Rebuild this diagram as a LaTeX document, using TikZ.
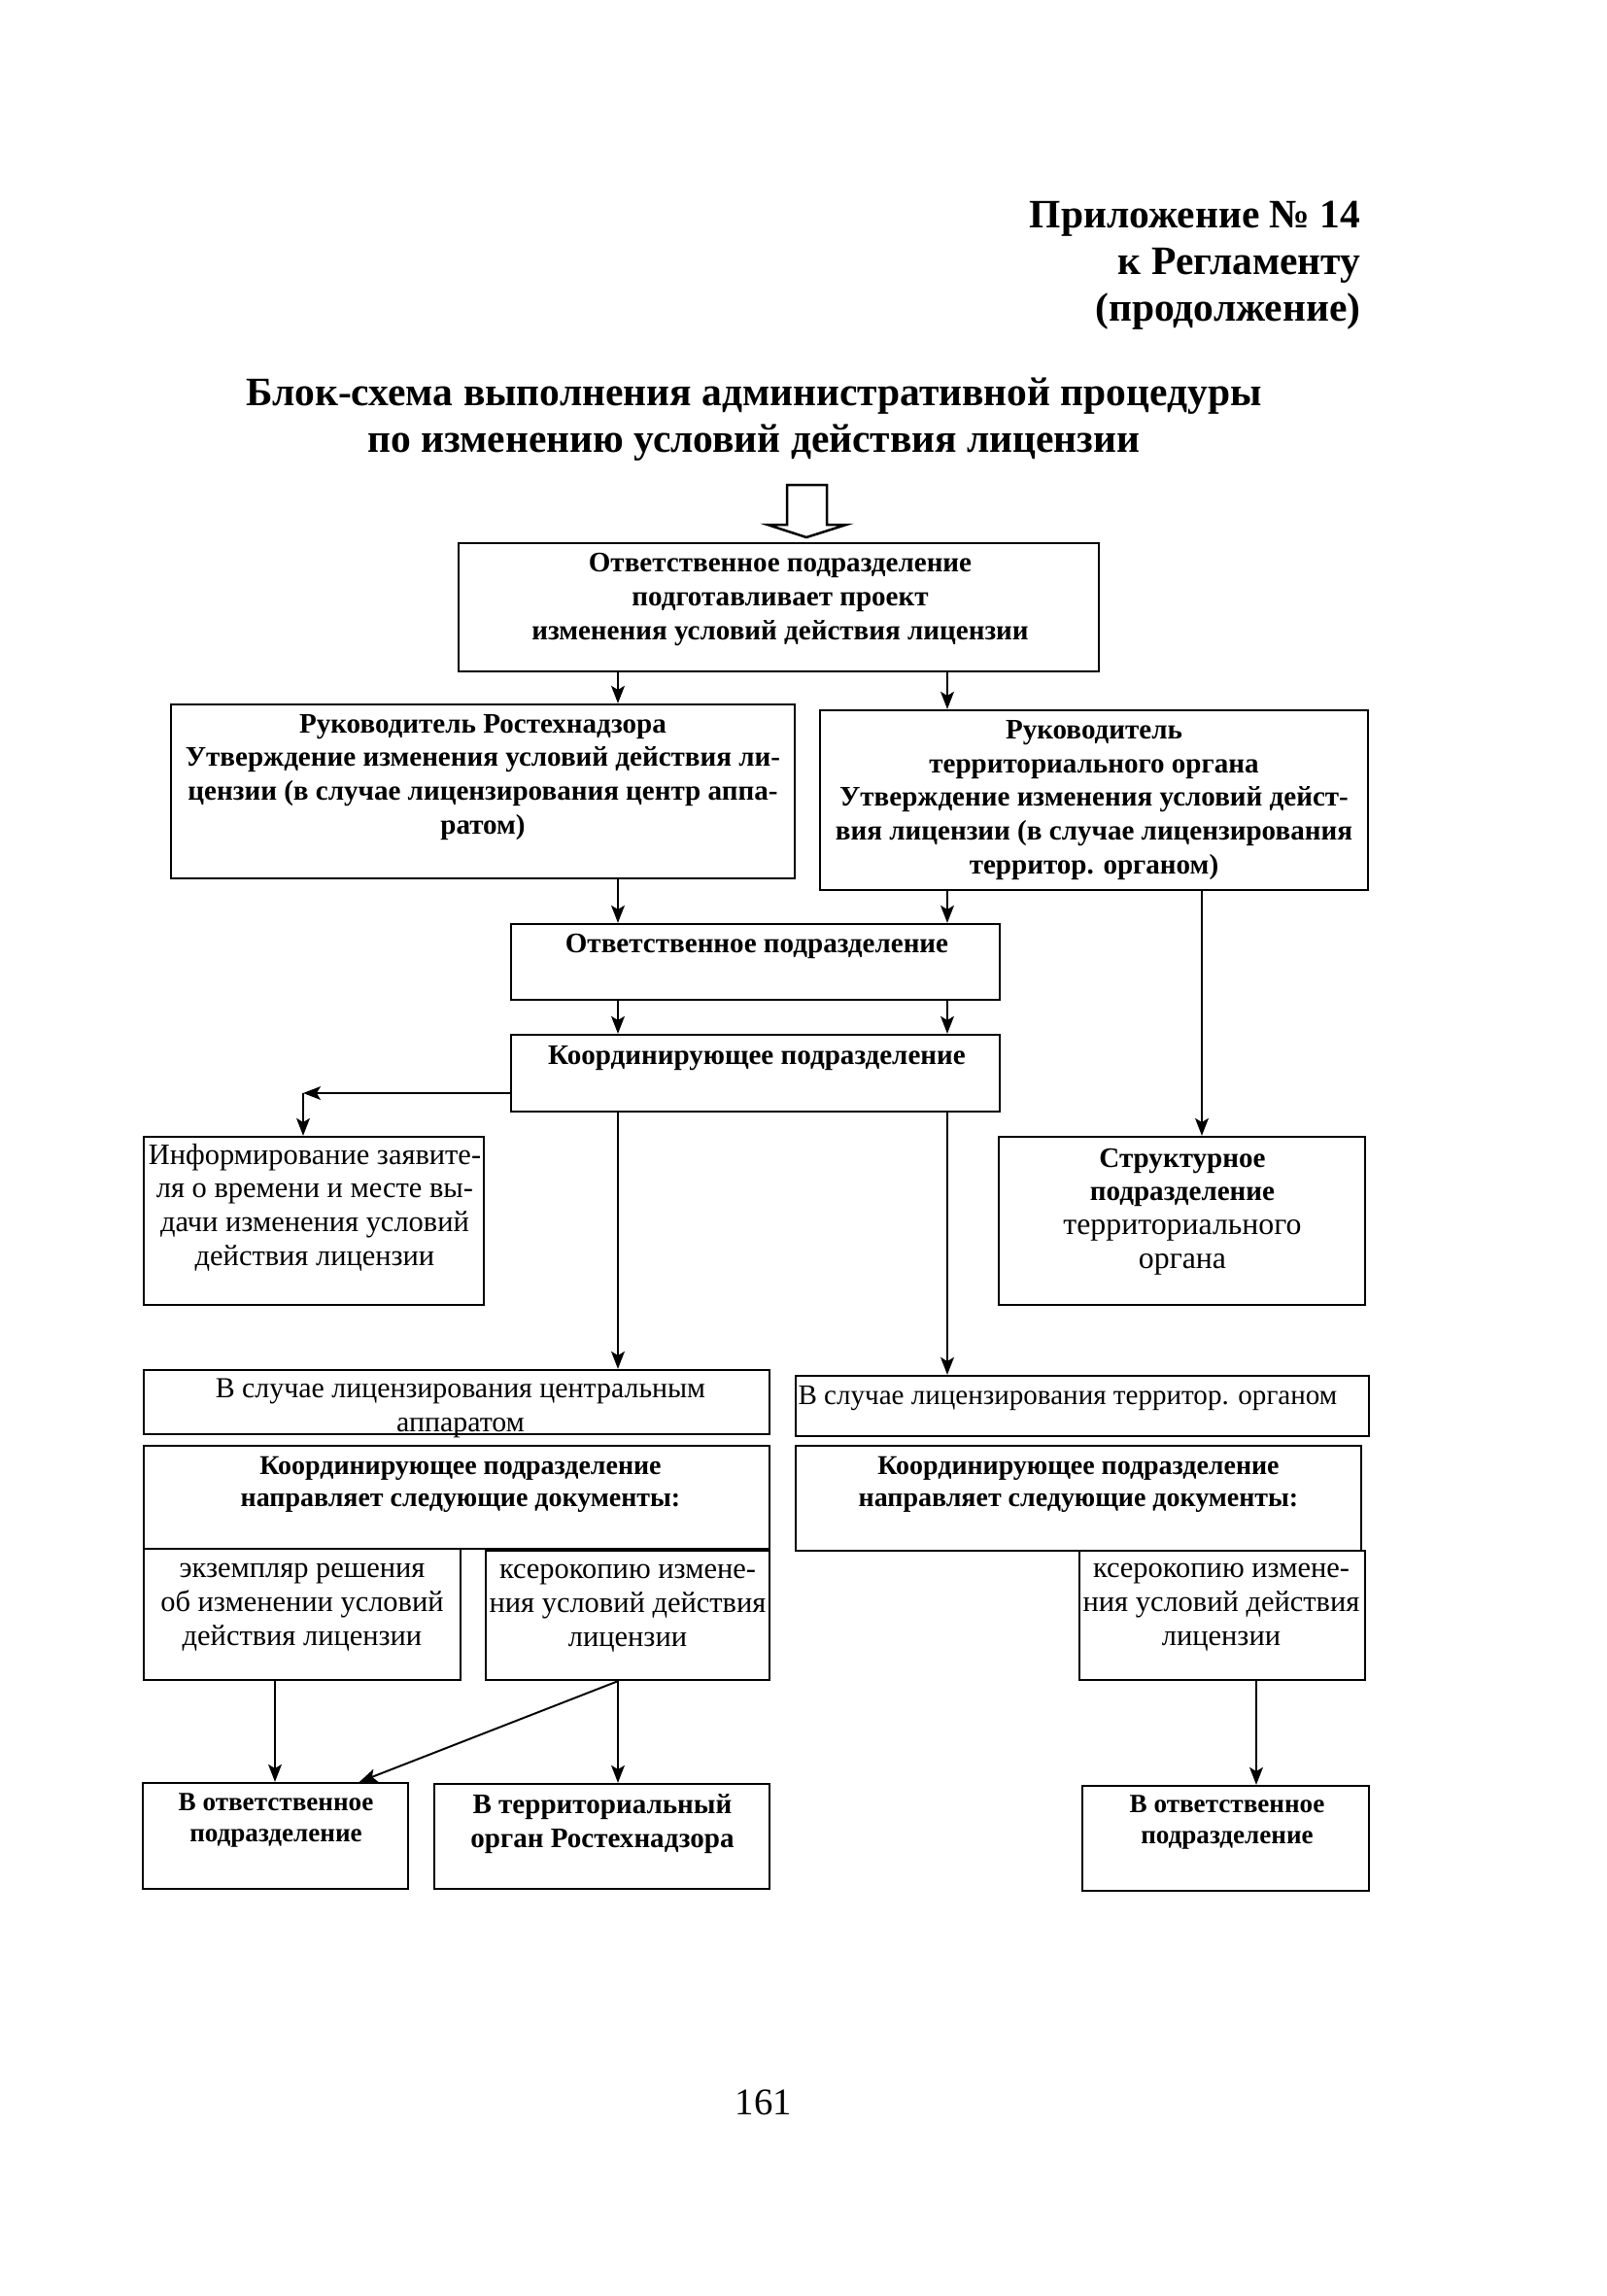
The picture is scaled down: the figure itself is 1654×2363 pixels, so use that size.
\documentclass[tikz,border=0pt]{standalone}
\usepackage{fontspec}
\setmainfont{Liberation Serif}
\usetikzlibrary{arrows.meta,fit,calc}
\newcommand\fhead{\fontsize{15}{17.3}\selectfont\bfseries}
\newcommand\fbold{\fontsize{10.5}{12.5}\selectfont\bfseries}
\newcommand\freg{\fontsize{11}{12.5}\selectfont}
\newcommand\fregb{\fontsize{11.5}{12.5}\selectfont}
\newcommand\fsmall{\fontsize{10.1}{11.9}\selectfont\bfseries}
\newcommand\ftiny{\fontsize{9.8}{11.5}\selectfont\bfseries}
\begin{document}
\begin{tikzpicture}[x=0.3613pt,y=-0.3613pt,
  box/.style={draw,line width=0.85pt,inner sep=0pt,rectangle},
  txt/.style={inner sep=0pt,align=center,anchor=base},
  arr/.style={line width=0.7pt,-{Stealth[length=6.5pt,width=5pt,inset=1.5pt]}},
  ln/.style={line width=0.7pt}]
\fill[white] (0,0) rectangle (1654,2363);
\useasboundingbox (0,0) rectangle (1654,2363);

% header (anchor = baseline of the last line)
\node[inner sep=0pt,align=right,anchor=base east,font=\fhead] (hdr) at (1401,330)
  {Приложение № 14\\к Регламенту\\(продолжение)};
\node[txt,font=\fhead] (ttl) at (776,465)
  {Блок-схема выполнения административной процедуры\\по изменению условий действия лицензии};

% boxes
\node[box,fit={(472,559) (1131,691)}] (b1) {};
\node[box,fit={(176,725) (818,904)}] (b2) {};
\node[box,fit={(844,731) (1408,916)}] (b3) {};
\node[box,fit={(526,951) (1029,1029)}] (b4) {};
\node[box,fit={(526,1065) (1029,1144)}] (b5) {};
\node[box,fit={(148,1170) (498,1343)}] (b6) {};
\node[box,fit={(1028,1170) (1405,1343)}] (b7) {};
\node[box,fit={(148,1410) (792,1476)}] (b8) {};
\node[box,fit={(819,1416) (1409,1478)}] (b9) {};
\node[box,fit={(148,1488) (792,1594)}] (b10) {};
\node[box,fit={(819,1488) (1401,1596)}] (b11) {};
\node[box,fit={(148,1594) (474,1729)}] (b12) {};
\node[box,fit={(500,1596) (792,1729)}] (b13) {};
\node[box,fit={(1111,1596) (1405,1729)}] (b14) {};
\node[box,fit={(147,1835) (420,1944)}] (b15) {};
\node[box,fit={(447,1836) (792,1944)}] (b16) {};
\node[box,fit={(1114,1838) (1409,1946)}] (b17) {};

% texts (anchor = baseline of the last line)
\node[txt,font=\fbold] (t1) at (803,658)
  {Ответственное подразделение\\подготавливает проект\\изменения условий действия лицензии};
\node[txt,font=\fbold] (t2) at (497,858)
  {Руководитель Ростехнадзора\\Утверждение изменения условий действия ли-\\цензии (в случае лицензирования центр аппа-\\ратом)};
\node[txt,font=\fbold] (t3) at (1126,899)
  {Руководитель\\территориального органа\\Утверждение изменения условий дейст-\\вия лицензии (в случае лицензирования\\территор. органом)};
\node[txt,font=\fbold] (t4) at (779,980) {Ответственное подразделение};
\node[txt,font=\fbold] (t5) at (779,1095) {Координирующее подразделение};
\node[txt,font=\freg] (t6) at (324,1302)
  {Информирование заявите-\\ля о времени и месте вы-\\дачи изменения условий\\действия лицензии};
\node[txt,font=\fregb] (t7) at (1217,1305)
  {\textbf{\fbold Структурное}\\\textbf{\fbold подразделение}\\территориального\\органа};
\node[txt,font=\fontsize{10.8}{12.5}\selectfont] (t8) at (474,1473)
  {В случае лицензирования центральным\\аппаратом};
\node[inner sep=0pt,anchor=base west,font=\fontsize{10.5}{12.5}\selectfont] (t9) at (821,1445)
  {В случае лицензирования территор. органом};
\node[txt,font=\fsmall] (t10) at (474,1550)
  {Координирующее подразделение\\направляет следующие документы:};
\node[txt,font=\fsmall] (t11) at (1110,1550)
  {Координирующее подразделение\\направляет следующие документы:};
\node[txt,font=\freg] (t12) at (311,1693)
  {экземпляр решения\\об изменении условий\\действия лицензии};
\node[txt,font=\freg] (t13) at (646,1694)
  {ксерокопию измене-\\ния условий действия\\лицензии};
\node[txt,font=\freg] (t14) at (1257,1693)
  {ксерокопию измене-\\ния условий действия\\лицензии};
\node[txt,font=\ftiny] (t15) at (284,1895) {В ответственное\\подразделение};
\node[txt,font=\fbold] (t16) at (620,1901) {В территориальный\\орган Ростехнадзора};
\node[txt,font=\ftiny] (t17) at (1263,1897) {В ответственное\\подразделение};

\node[inner sep=0pt,anchor=base,font=\fontsize{14}{16}\selectfont] (pg) at (786,2176) {161};

% hollow entry arrow
\draw[line width=0.9pt,line join=miter] (810,499) -- (810,540) -- (790,540) -- (830,553)
  -- (871,540) -- (851,540) -- (851,499) -- cycle;

% reference x positions
\coordinate (xL) at (636,0);
\coordinate (xR) at (975,0);
\coordinate (xS) at (1237,0);
\coordinate (xA) at (283,0);
\coordinate (xD) at (370,0);
\coordinate (xT) at (1293,0);
\coordinate (c1) at (312,1125);

% connectors
\draw[arr] (b1.south -| xL) -- (b2.north -| xL);
\draw[arr] (b1.south -| xR) -- (b3.north -| xR);
\draw[arr] (b2.south -| xL) -- (b4.north -| xL);
\draw[arr] (b3.south -| xR) -- (b4.north -| xR);
\draw[arr] (b4.south -| xL) -- (b5.north -| xL);
\draw[arr] (b4.south -| xR) -- (b5.north -| xR);
\draw[arr] (b5.west |- c1) -- (c1);
\draw[arr] (c1) -- (b6.north -| c1);
\draw[arr] (b3.south -| xS) -- (b7.north -| xS);
\draw[arr] (b5.south -| xL) -- (b8.north -| xL);
\draw[arr] (b5.south -| xR) -- (b9.north -| xR);
\draw[arr] (b12.south -| xA) -- (b15.north -| xA);
\draw[arr] (b13.south -| xL) -- (b15.north -| xD);
\draw[arr] (b13.south -| xL) -- (b16.north -| xL);
\draw[arr] (b14.south -| xT) -- (b17.north -| xT);
\end{tikzpicture}
\end{document}
